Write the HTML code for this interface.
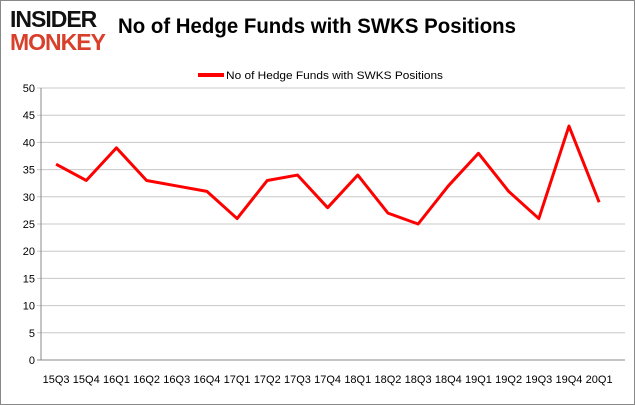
<!DOCTYPE html>
<html><head><meta charset="utf-8"><style>
body{margin:0;background:#fff;}
svg{display:block;font-family:"Liberation Sans",sans-serif;}
</style></head><body>
<svg width="635" height="405">
<rect x="0.5" y="0.5" width="634" height="404" fill="#fff" stroke="#888"/>
<g>
<text x="10" y="27" font-size="23" font-weight="bold" fill="#111" letter-spacing="-1">INSIDER</text>
<text x="10" y="50" font-size="23" font-weight="bold" fill="#d9402b" letter-spacing="-1">MONKEY</text>
</g>
<text x="118" y="33" font-size="21" font-weight="bold" fill="#000" textLength="398" lengthAdjust="spacingAndGlyphs">No of Hedge Funds with SWKS Positions</text>
<line x1="198" y1="75" x2="224" y2="75" stroke="#f00" stroke-width="4"/>
<text x="226" y="79" font-size="11" fill="#000" textLength="217" lengthAdjust="spacingAndGlyphs">No of Hedge Funds with SWKS Positions</text>
<g id="grid"></g><g id="ylab"></g><g id="xlab"></g>
<path id="line" fill="none" stroke="#f00" stroke-width="3" stroke-linejoin="round"/>
</svg>
<script>
const categories=["15Q3","15Q4","16Q1","16Q2","16Q3","16Q4","17Q1","17Q2","17Q3","17Q4","18Q1","18Q2","18Q3","18Q4","19Q1","19Q2","19Q3","19Q4","20Q1"];
const values=[36,33,39,33,32,31,26,33,34,28,34,27,25,32,38,31,26,43,29];
const yTicks=[0,5,10,15,20,25,30,35,40,45,50];
const NS="http://www.w3.org/2000/svg";
const x0=41,yTop=88,yBot=360,gridEnd=625;
const step=30.17;
const xs=i=>x0+step*(i+0.5);
const ys=v=>yBot-(v/50)*(yBot-yTop);
const grid=document.getElementById('grid'),yl=document.getElementById('ylab'),xl=document.getElementById('xlab');
yTicks.forEach(t=>{
 const l=document.createElementNS(NS,'line');
 l.setAttribute('x1',x0-4);l.setAttribute('x2',gridEnd);l.setAttribute('y1',ys(t));l.setAttribute('y2',ys(t));
 l.setAttribute('stroke',t===0?'#888':'#c8c8c8');
 
 
 grid.appendChild(l);
 const tx=document.createElementNS(NS,'text');
 tx.setAttribute('x',x0-6);tx.setAttribute('y',ys(t)+4);tx.setAttribute('text-anchor','end');tx.setAttribute('font-size','11');
 tx.textContent=t;
 
 
 yl.appendChild(tx);
});
const ax=document.createElementNS(NS,'line');
ax.setAttribute('x1',x0);ax.setAttribute('x2',x0);ax.setAttribute('y1',yTop);ax.setAttribute('y2',yBot);ax.setAttribute('stroke','#888');


grid.appendChild(ax);
categories.forEach((c,i)=>{
 const tx=document.createElementNS(NS,'text');
 tx.setAttribute('x',xs(i));tx.setAttribute('y',383);tx.setAttribute('text-anchor','middle');tx.setAttribute('font-size','11');
 tx.textContent=c;
 
 
 xl.appendChild(tx);
});
document.getElementById('line').setAttribute('d',values.map((v,i)=>(i?'L':'M')+xs(i)+' '+ys(v)).join(' '));
</script>
</body></html>
